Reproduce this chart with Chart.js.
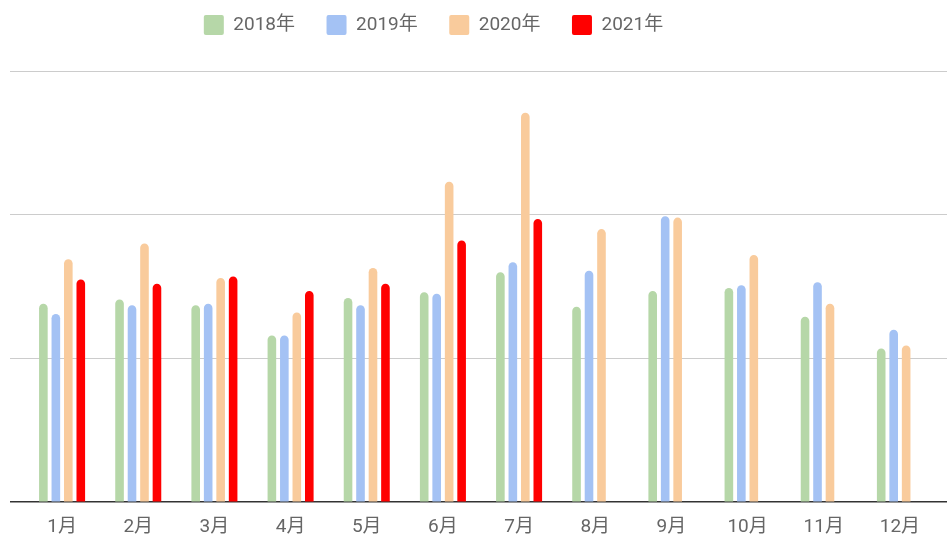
<!DOCTYPE html>
<html>
<head>
<meta charset="utf-8">
<script src="https://cdn.jsdelivr.net/npm/chart.js@4"></script>
<style>
  html, body { margin: 0; padding: 0; background: #ffffff; }
  #wrap { width: 947px; height: 535px; position: relative; }
</style>
</head>
<body>
<div id="wrap"><canvas id="c"></canvas></div>
<script>
const months = ['1月','2月','3月','4月','5月','6月','7月','8月','9月','10月','11月','12月'];
const seriesNames = ['2018年','2019年','2020年','2021年'];
const v2018 = [138, 141, 137, 116, 142, 146, 160, 136, 147, 149, 129, 107];
const v2019 = [131, 137, 138, 116, 137, 145, 167, 161, 199, 151, 153, 120];
const v2020 = [169, 180, 156, 132, 163, 223, 271, 190, 198, 172, 138, 109];
const v2021 = [155, 152, 157, 147, 152, 182, 197, null, null, null, null, null];
const gridValues = [0, 100, 200, 300];
const colors = ['#b6d7a8', '#a4c2f4', '#f9cb9c', '#ff0000'];

const FONT = 'Roboto, "Noto Sans CJK SC", sans-serif';
const gridColor = ctx => (ctx.tick && ctx.tick.value === 0) ? '#333333' : '#cccccc';
const gridWidth = ctx => (ctx.tick && ctx.tick.value === 0) ? 1.5 : 1;
const keepTicks = scale => { scale.ticks = gridValues.map(v => ({ value: v })); };

const legendShift = {
  id: 'legendShift',
  afterLayout(chart) {
    const lg = chart.legend;
    if (lg) { lg.left -= 45; lg.right -= 45; }
  }
};

const allValues = [v2018, v2019, v2020, v2021];
new Chart(document.getElementById('c'), {
  type: 'bar',
  data: {
    labels: months,
    datasets: allValues.map((vals, i) => ({
      label: seriesNames[i],
      data: vals,
      backgroundColor: colors[i],
      borderRadius: 5,
      borderSkipped: 'start',
      categoryPercentage: 0.655,
      barPercentage: 0.69
    }))
  },
  options: {
    responsive: true,
    maintainAspectRatio: false,
    animation: false,
    layout: { padding: { top: -16.5, left: 10, right: 0, bottom: -10 } },
    plugins: {
      legend: {
        position: 'top',
        labels: {
          boxWidth: 20,
          boxHeight: 20,
          padding: 31.5,
          color: '#666666',
          font: { family: FONT, size: 19 },
          generateLabels(chart) {
            return chart.data.datasets.map((ds, i) => ({
              text: ds.label,
              fillStyle: ds.backgroundColor,
              strokeStyle: ds.backgroundColor,
              lineWidth: 0,
              borderRadius: 2,
              fontColor: '#666666',
              datasetIndex: i,
              hidden: false
            }));
          }
        }
      },
      tooltip: { enabled: false }
    },
    scales: {
      x: {
        grid: { display: false },
        border: { display: false },
        ticks: { color: '#666666', font: { family: FONT, size: 19 }, padding: 6, maxRotation: 0 }
      },
      y: {
        position: 'left',
        min: 0,
        max: 318.1,
        afterBuildTicks: keepTicks,
        border: { display: false },
        grid: { color: gridColor, lineWidth: gridWidth, tickLength: 14, drawTicks: true },
        ticks: { display: false }
      },
      y2: {
        position: 'right',
        min: 0,
        max: 318.1,
        afterBuildTicks: keepTicks,
        border: { display: false },
        grid: { color: gridColor, lineWidth: gridWidth, tickLength: 9, drawTicks: true, drawOnChartArea: false },
        ticks: { display: false }
      }
    }
  },
  plugins: [legendShift]
});
</script>
</body>
</html>
